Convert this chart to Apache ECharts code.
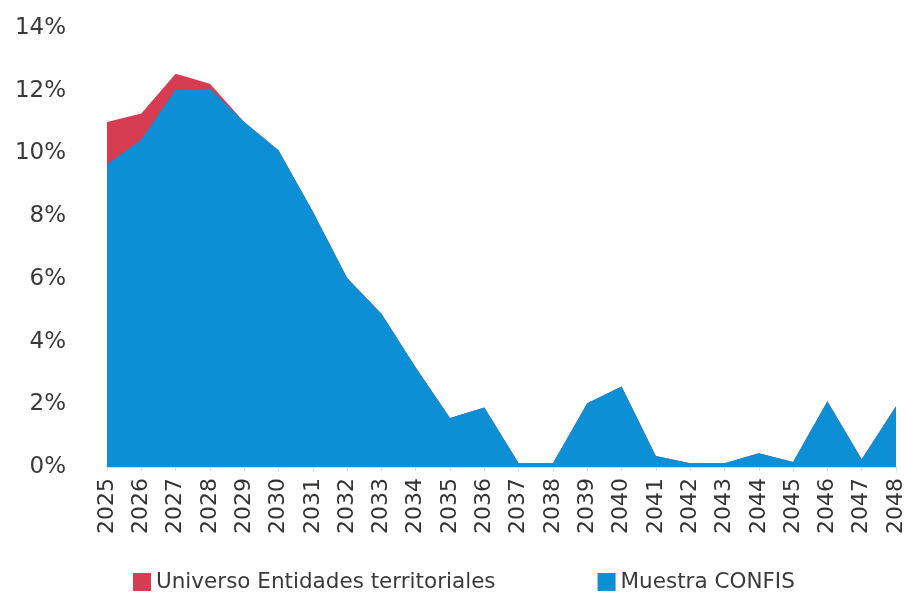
<!DOCTYPE html>
<html>
<head>
<meta charset="utf-8">
<script src="https://cdn.jsdelivr.net/npm/echarts@6/dist/echarts.min.js"></script>
<style>html,body{margin:0;padding:0;background:#fff}#c{width:907px;height:593px}</style>
</head>
<body>
<div id="c"></div>
<script>
const years = ['2025','2026','2027','2028','2029','2030','2031','2032','2033','2034','2035','2036','2037','2038','2039','2040','2041','2042','2043','2044','2045','2046','2047','2048'];
const universo = [11.0,11.27,12.54,12.22,11.0,10.1,8.15,6.03,4.89,3.17,1.56,1.9,0.12,0.12,2.03,2.57,0.35,0.12,0.12,0.44,0.16,2.1,0.25,1.94];
const muestra = [9.65,10.44,12.03,12.06,11.0,10.1,8.15,6.03,4.89,3.17,1.56,1.9,0.12,0.12,2.03,2.57,0.35,0.12,0.12,0.44,0.16,2.1,0.25,1.94];
const yTicks = [0,2,4,6,8,10,12,14];

const chart = echarts.init(document.getElementById('c'));
const font = 'DejaVu Sans, Verdana, sans-serif';
chart.setOption({
  animation: false,
  grid: {left: 107, right: 9, top: 28, bottom: 126},
  legend: {
    left: 128, top: 566,
    icon: 'rect', itemWidth: 18, itemHeight: 18, itemGap: 102, itemStyle: {borderWidth: 0},
    textStyle: {fontFamily: font, fontSize: 21.5, color: '#3a3a3a'},
    data: ['Universo Entidades territoriales', 'Muestra CONFIS']
  },
  xAxis: {
    type: 'category', data: years, boundaryGap: false,
    axisLine: {lineStyle: {color: '#d3dde6', width: 2}},
    axisTick: {show: true, length: 4, lineStyle: {color: '#d3dde6'}},
    axisLabel: {rotate: 90, interval: 0, fontFamily: font, fontSize: 22, color: '#333', margin: 11}
  },
  yAxis: {
    type: 'value', min: 0, max: 14, interval: 2,
    splitLine: {show: false},
    axisLine: {show: false}, axisTick: {show: false},
    axisLabel: {fontFamily: font, fontSize: 23, color: '#3a3a3a', margin: 41,
      formatter: v => yTicks.includes(v) ? v + '%' : ''}
  },
  series: [
    {name: 'Universo Entidades territoriales', type: 'line', data: universo, symbol: 'none',
     lineStyle: {width: 0}, areaStyle: {color: '#d63d52', opacity: 1}, itemStyle: {color: '#d63d52'}, z: 1},
    {name: 'Muestra CONFIS', type: 'line', data: muestra, symbol: 'none',
     lineStyle: {width: 0}, areaStyle: {color: '#0c8fd5', opacity: 1}, itemStyle: {color: '#0c8fd5'}, z: 2}
  ]
});
</script>
</body>
</html>
